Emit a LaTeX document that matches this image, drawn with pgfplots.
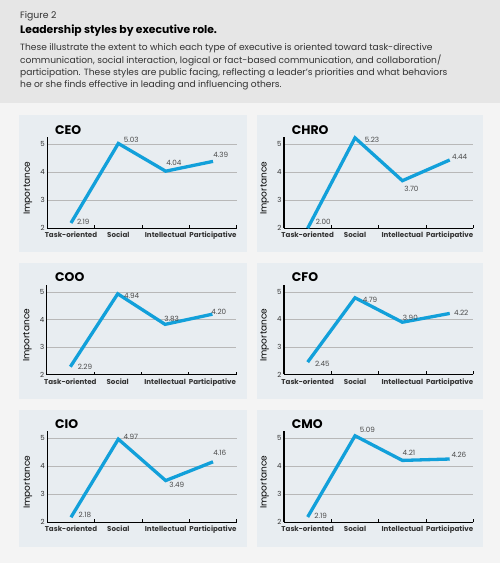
\documentclass[border=0pt]{standalone}
\usepackage{pgfplots}
\pgfplotsset{compat=1.18}
\usepackage{fontspec}
\setmainfont{Poppins}
\definecolor{hdrbg}{HTML}{E6E6E6}
\definecolor{bodybg}{HTML}{F4F4F4}
\definecolor{panelbg}{HTML}{E8EDF1}
\definecolor{lineblue}{HTML}{12A0DA}
\definecolor{lblgray}{HTML}{4A4A4A}
\definecolor{txt}{HTML}{333333}
\tikzset{
  lbl/.style={font=\fontsize{7.2}{8}\selectfont, text=lblgray, anchor=center, inner sep=0pt},
}
\pgfplotsset{
  panel/.style={
    width=189.4pt, height=91pt, scale only axis, clip=false,
    xmin=0, xmax=4, ymin=2, ymax=5.25,
    axis x line*=bottom, axis y line*=left,
    axis line style={-, line width=1.1pt, black},
    xtick={0.5,1.5,2.5,3.5},
    xticklabels={Task-oriented,Social,Intellectual,Participative},
    minor xtick={1,2,3,4},
    major x tick style={draw=none},
    minor x tick style={black, line width=0.9pt},
    minor tick length=3pt, tick align=inside,
    ytick={2,3,4,5}, y tick style={draw=none},
    ymajorgrids, grid style={black!28, line width=0.8pt},
    /pgf/number format/assume math mode=true,
    xticklabel style={font=\fontsize{7.1}{8}\selectfont\bfseries, text=txt, yshift=-0.5pt, text height=5.5pt, text depth=1.5pt},
    yticklabel style={font=\fontsize{7}{8}\selectfont, text=txt, xshift=1pt},
    ylabel={Importance},
    ylabel style={font=\fontsize{9}{10}\selectfont, text=black, at={(axis description cs:-0.102,0.44)}, anchor=center},
  },
  dline/.style={lineblue, line width=3.3pt, line join=miter, line cap=butt},
}
\newcommand{\ptitle}[3]{\node[anchor=base west, inner sep=0pt, font=\fontsize{12.5}{13}\selectfont\bfseries] at (#1,#2) {#3};}
\begin{document}
\begin{tikzpicture}[x=1pt,y=1pt]
\useasboundingbox (0,0) rectangle (500,563);
\fill[bodybg] (0,0) rectangle (500,563);
\fill[hdrbg] (0,460) rectangle (500,563);
\node[anchor=base west, inner sep=0pt, font=\fontsize{9.3}{10}\selectfont, text=txt] at (20,544.7) {Figure 2};
\node[anchor=base west, inner sep=0pt, font=\fontsize{10.8}{11}\selectfont\bfseries, text=black] at (20,529.7) {Leadership styles by executive role.};
\node[anchor=north west, inner sep=0pt, align=left, font=\fontsize{9.1}{12.4}\selectfont, text=txt] at (20,519.5) {These illustrate the extent to which each type of executive is oriented toward task-directive\\communication, social interaction, logical or fact-based communication, and collaboration/\\participation. These styles are public facing, reflecting a leader's priorities and what behaviors\\he or she finds effective in leading and influencing others.};
% panels
\fill[panelbg] (19,311) rectangle (247,448);
\fill[panelbg] (257,311) rectangle (483,448);
\fill[panelbg] (19,164) rectangle (247,300);
\fill[panelbg] (257,164) rectangle (483,300);
\fill[panelbg] (19,16) rectangle (247,153);
\fill[panelbg] (257,16) rectangle (483,153);
% CEO
\begin{axis}[panel, at={(47.3pt,334.7pt)}, anchor=south west]
\addplot[dline] coordinates {(0.5,2.19) (1.5,5.03) (2.5,4.04) (3.5,4.39)};
\node[lbl] at (axis cs:0.5,2.19) [xshift=12.3pt,yshift=1pt] {2.19};
\node[lbl] at (axis cs:1.5,5.03) [xshift=13pt,yshift=3.5pt] {5.03};
\node[lbl] at (axis cs:2.5,4.04) [xshift=8.3pt,yshift=8.5pt] {4.04};
\node[lbl] at (axis cs:3.5,4.39) [xshift=7.7pt,yshift=6.4pt] {4.39};
\end{axis}
% CHRO
\begin{axis}[panel, at={(284pt,334.7pt)}, anchor=south west]
\addplot[dline] coordinates {(0.5,2.00) (1.5,5.23) (2.5,3.70) (3.5,4.44)};
\node[lbl] at (axis cs:0.5,2.00) [xshift=15.6pt,yshift=6pt] {2.00};
\node[lbl] at (axis cs:1.5,5.23) [xshift=17pt,yshift=-2pt] {5.23};
\node[lbl] at (axis cs:2.5,3.70) [xshift=9pt,yshift=-8.3pt] {3.70};
\node[lbl] at (axis cs:3.5,4.44) [xshift=10pt,yshift=2.7pt] {4.44};
\end{axis}
% COO
\begin{axis}[panel, height=89.4pt, at={(46.7pt,188.3pt)}, anchor=south west]
\addplot[dline] coordinates {(0.5,2.29) (1.5,4.94) (2.5,3.83) (3.5,4.20)};
\node[lbl] at (axis cs:0.5,2.29) [xshift=14.6pt,yshift=-0.6pt] {2.29};
\node[lbl] at (axis cs:1.5,4.94) [xshift=14pt,yshift=-2pt] {4.94};
\node[lbl] at (axis cs:2.5,3.83) [xshift=6.5pt,yshift=5pt] {3.83};
\node[lbl] at (axis cs:3.5,4.20) [xshift=6.4pt,yshift=2.5pt] {4.20};
\end{axis}
% CFO
\begin{axis}[panel, height=89.4pt, at={(284pt,188.5pt)}, anchor=south west]
\addplot[dline] coordinates {(0.5,2.45) (1.5,4.79) (2.5,3.90) (3.5,4.22)};
\node[lbl] at (axis cs:0.5,2.45) [xshift=14.7pt,yshift=-2pt] {2.45};
\node[lbl] at (axis cs:1.5,4.79) [xshift=15pt,yshift=-1.7pt] {4.79};
\node[lbl] at (axis cs:2.5,3.90) [xshift=8pt,yshift=4.7pt] {3.90};
\node[lbl] at (axis cs:3.5,4.22) [xshift=11.5pt,yshift=0.6pt] {4.22};
\end{axis}
% CIO
\begin{axis}[panel, at={(47.3pt,40.7pt)}, anchor=south west]
\addplot[dline] coordinates {(0.5,2.18) (1.5,4.97) (2.5,3.49) (3.5,4.16)};
\node[lbl] at (axis cs:0.5,2.18) [xshift=14pt,yshift=2.3pt] {2.18};
\node[lbl] at (axis cs:1.5,4.97) [xshift=12.6pt,yshift=2.4pt] {4.97};
\node[lbl] at (axis cs:2.5,3.49) [xshift=11pt,yshift=-4.4pt] {3.49};
\node[lbl] at (axis cs:3.5,4.16) [xshift=6.8pt,yshift=9pt] {4.16};
\end{axis}
% CMO
\begin{axis}[panel, at={(284pt,40.7pt)}, anchor=south west]
\addplot[dline] coordinates {(0.5,2.19) (1.5,5.09) (2.5,4.21) (3.5,4.26)};
\node[lbl] at (axis cs:0.5,2.19) [xshift=13pt,yshift=1.3pt] {2.19};
\node[lbl] at (axis cs:1.5,5.09) [xshift=12.3pt,yshift=6.4pt] {5.09};
\node[lbl] at (axis cs:2.5,4.21) [xshift=6.6pt,yshift=7.6pt] {4.21};
\node[lbl] at (axis cs:3.5,4.26) [xshift=9.2pt,yshift=4.5pt] {4.26};
\end{axis}
% panel titles
\ptitle{55}{428.7}{CEO}
\ptitle{291.7}{428.7}{CHRO}
\ptitle{55}{281.5}{COO}
\ptitle{291.7}{281.5}{CFO}
\ptitle{55}{134}{CIO}
\ptitle{291.7}{134}{CMO}
\end{tikzpicture}
\end{document}
